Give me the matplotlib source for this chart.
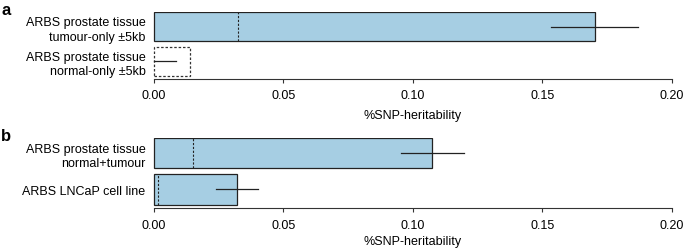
import numpy as np
import matplotlib
matplotlib.use('Agg')
import matplotlib.pyplot as plt

plt.rcParams['font.family'] = ['Liberation Sans', 'DejaVu Sans']

# panel a
labels_a = ['ARBS prostate tissue\ntumour-only \u00b15kb', 'ARBS prostate tissue\nnormal-only \u00b15kb']
obs_a = [0.1703, 0.0]
err_a = [0.0168, 0.0086]
exp_a = [0.0326, 0.0141]
fill_a = [True, False]

# panel b
labels_b = ['ARBS prostate tissue\nnormal+tumour', 'ARBS LNCaP cell line']
obs_b = [0.1075, 0.0322]
err_b = [0.0121, 0.0081]
exp_b = [0.0151, 0.0016]
fill_b = [True, True]

xticks = [0.00, 0.05, 0.10, 0.15, 0.20]
blue = '#a6cee3'

fig = plt.figure(figsize=(6.85, 2.51), dpi=100)
W, H = 685, 251


def panel(rect, labels, obs, err, exp, fill, letter, ylim, tpad, lpad, letter_y):
    ax = fig.add_axes(rect)
    ys = [1, 0]
    h = 0.84
    for y, o, e, x0, f in zip(ys, obs, err, exp, fill):
        if f:
            ax.barh(y, o, height=h, color=blue, edgecolor='#222222', linewidth=0.9, zorder=1)
            ax.plot([x0, x0], [y - h / 2, y + h / 2], ls=(0, (2, 1.5)), color='#222222', lw=0.8, zorder=2)
        else:
            ax.barh(y, x0, height=h, color='white', edgecolor='#333333', linewidth=0.9,
                    linestyle=(0, (2, 1.5)), zorder=1)
        ax.plot([max(o - e, 0), o + e], [y, y], color='#222222', lw=0.9, zorder=3)
    ax.set_xlim(-0.0005, 0.2005)
    ax.set_ylim(*ylim)
    ax.set_yticks(ys)
    ax.set_yticklabels(labels, fontsize=9, linespacing=1.25)
    ax.tick_params(axis='y', length=0, pad=5)
    ax.set_xticks(xticks)
    ax.set_xticklabels(['%.2f' % t for t in xticks], fontsize=9)
    ax.tick_params(axis='x', length=3, width=0.8, pad=tpad, color='#333333')
    for s in ['top', 'right', 'left']:
        ax.spines[s].set_visible(False)
    ax.spines['bottom'].set_bounds(0, 0.2)
    ax.spines['bottom'].set_linewidth(0.8)
    ax.spines['bottom'].set_color('#333333')
    ax.set_xlabel('%SNP-heritability', fontsize=9, labelpad=lpad)
    fig.text(1 / W, 1 - letter_y / H, letter, fontsize=12, fontweight='bold', va='baseline')
    return ax


panel([152.5 / W, 1 - 80 / H, 520.5 / W, 67 / H], labels_a, obs_a, err_a, exp_a, fill_a,
      'a', (-0.515, 1.43), 4.5, 5.5, 15)
panel([152.5 / W, 1 - 208.5 / H, 520.5 / W, 70 / H], labels_b, obs_b, err_b, exp_b, fill_b,
      'b', (-0.5, 1.43), 5, 3, 141)

fig.savefig('out.png', dpi=100)
